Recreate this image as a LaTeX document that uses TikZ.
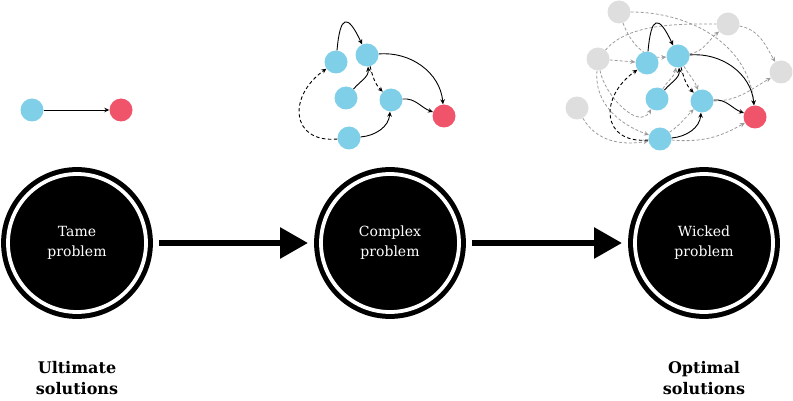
\documentclass[tikz,border=0pt]{standalone}
\usepackage{fontspec}
\setmainfont{DejaVu Serif}
\usetikzlibrary{arrows.meta,backgrounds}
\definecolor{skyb}{RGB}{128,207,233}
\definecolor{rosered}{RGB}{239,84,107}
\definecolor{lightg}{RGB}{222,222,222}
\definecolor{edgeg}{RGB}{155,155,155}

\tikzset{
  bnode/.style={circle, fill=skyb, inner sep=0pt, minimum size=23pt},
  rnode/.style={circle, fill=rosered, inner sep=0pt, minimum size=23pt},
  gnode/.style={circle, fill=lightg, inner sep=0pt, minimum size=23pt},
  link/.style={-{Stealth[length=5pt,width=4.5pt]}, line width=0.9pt, black},
  dlink/.style={link, dash pattern=on 3.5pt off 2.5pt},
  glink/.style={-{Stealth[length=5pt,width=4.5pt]}, line width=0.8pt, edgeg, dash pattern=on 3pt off 2pt},
  bigring/.style={circle, fill=black, draw=black, double=white, line width=5pt, double distance=3.8pt,
    minimum size=138pt, inner sep=0pt, text=white, align=center, font=\fontsize{14}{20}\selectfont},
  bigarrow/.style={line width=6pt, -{Triangle[length=28pt,width=30pt]}, shorten <=10.5pt, shorten >=10.5pt},
  caption/.style={align=center, font=\fontsize{16}{21}\selectfont\bfseries}
}

\begin{document}
\begin{tikzpicture}[x=1pt,y=1pt]
\useasboundingbox (0,0) rectangle (793,-401);

% tame: one link
\node[bnode] (la) at (32,-110) {};
\node[rnode] (lr) at (121,-110) {};
\draw[link] (la) -- (lr);

% complex cluster
\node[bnode] (ma) at (336,-62) {};
\node[bnode] (mb) at (367,-55) {};
\node[bnode] (mc) at (346,-98) {};
\node[bnode] (md) at (391,-100) {};
\node[bnode] (me) at (349,-138) {};
\node[rnode] (mr) at (444,-116) {};
\draw[link] (ma) to[out=85,in=115,looseness=3.5] (mb);
\draw[link] (mc) to[out=50,in=-85] (mb);
\draw[dlink] (mb) to[out=-75,in=135] (md);
\draw[link] (mb) to[out=5,in=95] (mr);
\draw[link] (md) to[out=5,in=160] (mr);
\draw[link] (me) to[out=5,in=-95] (md);
\draw[dlink] (me) to[out=185,in=215,looseness=1.7] (ma);

% wicked cluster
\node[bnode] (wa) at (647,-63) {};
\node[bnode] (wb) at (678,-56) {};
\node[bnode] (wc) at (657,-99) {};
\node[bnode] (wd) at (702,-101) {};
\node[bnode] (we) at (660,-139) {};
\node[rnode] (wr) at (755,-117) {};
\node[gnode] (g1) at (619,-12) {};
\node[gnode] (g2) at (728,-24) {};
\node[gnode] (g3) at (598,-59) {};
\node[gnode] (g4) at (781,-72) {};
\node[gnode] (g5) at (577,-108) {};
\draw[link] (wa) to[out=85,in=115,looseness=3.5] (wb);
\draw[link] (wc) to[out=50,in=-85] (wb);
\draw[dlink] (wb) to[out=-75,in=135] (wd);
\draw[link] (wb) to[out=5,in=95] (wr);
\draw[link] (wd) to[out=5,in=160] (wr);
\draw[link] (we) to[out=5,in=-95] (wd);
\draw[dlink] (we) to[out=185,in=215,looseness=1.7] (wa);

\begin{pgfonlayer}{background}
\draw[glink] (g1) to[out=0,in=95] (wr);
\draw[glink] (g1) to[out=-70,in=185] (wb);
\draw[glink,-] (g3) to[out=50,in=180,looseness=0.8] (g2);
\draw[glink] (g3) -- (wa);
\draw[glink] (wb) to[out=10,in=220] (g2);
\draw[glink] (g2) to[out=-10,in=120] (g4);
\draw[glink] (wd) to[out=0,in=210] (g4);
\draw[glink] (we) to[out=-5,in=210] (wr);
\draw[glink] (we) to[out=35,in=225] (wd);
\draw[glink] (g5) to[out=-60,in=190] (we);
\draw[glink] (g3) to[out=-95,in=160] (we);
\draw[glink] (g3) to[out=-80,in=-120] (wc);
\draw[glink] (wc) to[out=60,in=-100] (wb);
\draw[glink] (wb) to[out=-60,in=110] (wd);
\end{pgfonlayer}

% problems
\node[bigring] (tame) at (77,-243) {Tame\\problem};
\node[bigring] (complex) at (390,-243) {Complex\\problem};
\node[bigring] (wicked) at (704,-243) {Wicked\\problem};
\draw[bigarrow] (tame) -- (complex);
\draw[bigarrow] (complex) -- (wicked);

\node[caption] (ultimate) at (77,-378) {Ultimate\\solutions};
\node[caption] (optimal) at (704,-378) {Optimal\\solutions};
\end{tikzpicture}
\end{document}
